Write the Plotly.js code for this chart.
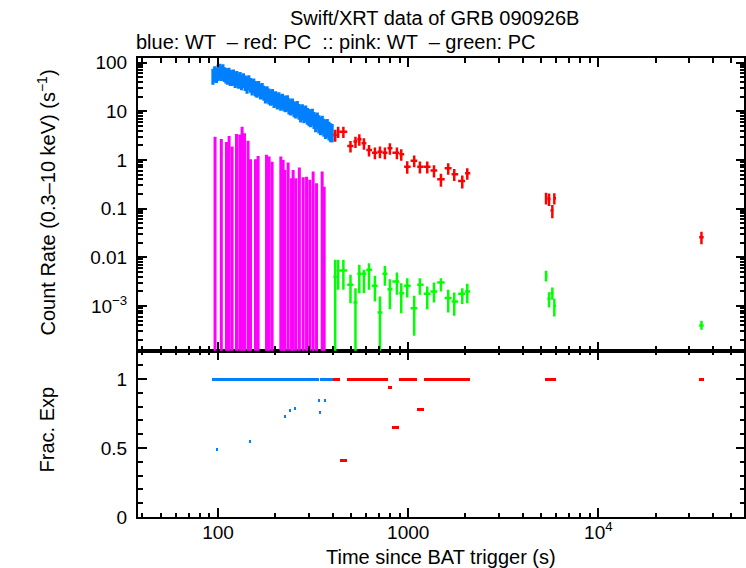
<!DOCTYPE html>
<html>
<head>
<meta charset="utf-8">
<script src="https://cdn.plot.ly/plotly-3.0.1.min.js"></script>
<style>html,body{margin:0;padding:0;background:#fff}#chart{width:746px;height:568px}
#chart .subplot.xy .errorbar path{shape-rendering:crispEdges}</style>
</head>
<body>
<div id="chart"></div>
<script>
// ---------------- DATA ----------------
// WT (blue) count rate
const wtTime = [94,96,98,100,102,104,106,108,110,112,114,116,118,120.5,123,125.5,128,130.5,133,136,139,142,145,148,151,154,157,160,163.5,167,170.5,174,177.5,181,185,189,193,197,201,205,209,213.5,218,222.5,227,231.5,236,241,246,251,256,261,266.5,272,277.5,283,289,295,301,307,313,319.5,326,332.5,339,346,353,360,367.5,375,383,391,398];
const wtRate = [55,62,58,66,70,64,68,60,57,54,58,52,50,53,47,50,44,47,42,45,40,37,41,36,33,35,31,29,31,27,28,25,23,24,21.5,20,21,18.5,19,17,18,16,16.8,15.5,14.8,15.6,13.5,12.8,13.4,11.8,11.2,12,10.4,9.5,10.2,9.1,9.6,8.5,8.0,7.6,8.2,7.0,6.3,6.8,5.9,5.4,5.8,5.0,4.6,4.9,4.3,4.0,3.9];
const wtErr  = [20,22,20,24,25,22,24,20,20,19,20,19,17,19,17,17,15,17,15,15,14,14,14,12,12,12,11,10,11,9.5,10,8.5,8.5,8.5,7.7,7.1,7.5,6.8,6.8,6.1,6.5,5.8,6,5.6,5.3,5.6,4.9,4.6,4.8,4.3,4.1,4.3,3.7,3.6,3.7,3.4,3.6,3.2,3.1,2.9,3.1,2.7,2.6,2.6,2.4,2.2,2.3,2.0,1.9,2.0,1.8,1.7,1.6];

// pink: WT (lower bound below zero)
const pinkTime = [96.4,104,110.7,114.3,118.5,125,130.1,133.8,137.7,143.8,148.1,157.3,162.4,179.8,185.5,192.4,213.8,219.9,224.4,233.6,243.4,248.2,256.4,267.6,280.2,292,303.8,316.2,329.5,352.7,361.4];
const pinkRate = [1.68,1.4,1.2,1.6,0.95,1.75,1.7,2.4,1.8,1.3,0.52,0.53,0.6,0.65,0.6,0.45,0.58,0.5,0.31,0.44,0.21,0.31,0.21,0.35,0.22,0.23,0.2,0.29,0.17,0.36,0.14];
const pinkHigh = [3.0,2.7,2.34,3.1,1.88,3.42,3.31,4.83,3.53,2.49,1.03,1.03,1.21,1.27,1.17,0.92,1.17,1.0,0.62,0.88,0.42,0.62,0.42,0.70,0.44,0.45,0.39,0.58,0.33,0.58,0.28];

// PC bins (red and green share them)
const pcTime  = [413,428,456,497,528,553,585,622,668,710,754,801,872,919,988,1075,1152,1259,1366,1486,1623,1746,1924,2044,5305,5502,5727,5866,34840];
const pcStart = [404,421,436,478,515,540,568,602,645,690,732,778,826,897,952,1030,1115,1205,1310,1420,1555,1690,1830,1990,5240,5400,5600,5800,33900];
const pcStop  = [421,436,478,515,540,568,602,645,690,732,778,826,897,952,1030,1115,1205,1310,1420,1555,1690,1830,1990,2120,5400,5600,5800,5990,35800];
const redRate = [3.26,3.81,3.81,1.94,2.38,2.66,2.20,1.60,1.41,1.48,1.41,1.74,1.41,1.31,0.728,0.967,0.728,0.728,0.603,0.40,0.675,0.508,0.37,0.533,0.166,0.158,0.091,0.164,0.0259];
const redErr  = [0.9,1.0,1.0,0.52,0.62,0.7,0.58,0.43,0.38,0.4,0.38,0.46,0.38,0.35,0.21,0.26,0.2,0.2,0.17,0.12,0.18,0.14,0.11,0.14,0.045,0.045,0.028,0.042,0.0075];
const redFrac = [1,1,0.413,1,1,1,1,1,1,1,1,0.942,0.652,1,1,1,0.783,1,1,1,1,1,1,1,1,1,1,1,1];
const greenRate = [0.004,0.00533,0.00533,0.00271,0.00118,0.00456,0.00456,0.00551,0.00259,0.000732,0.00456,0.00221,0.00317,0.00183,0.00259,0.000901,0.00271,0.00177,0.00198,0.00303,0.00145,0.00123,0.00177,0.00198,0.00415,0.0014,0.00183,0.001,0.000396];
const greenHigh = [0.00885,0.00885,0.00885,0.00435,0.00232,0.00698,0.00551,0.00757,0.00415,0.00156,0.00665,0.00355,0.00485,0.00294,0.00372,0.00161,0.00372,0.0025,0.00303,0.00372,0.00214,0.00188,0.00232,0.00284,0.00526,0.00192,0.00239,0.0014,0.000494];
const greenLow  = [0,0.00214,0.00214,0.00114,0,0.00183,0.00183,0.00214,0.00123,0,0.00259,0.000859,0.00169,0.000711,0.00149,0.000243,0.00169,0.000859,0.00118,0.00198,0.000732,0.000626,0.0011,0.00114,0.00317,0.000927,0.00134,0.000605,0.000323];

// WT fractional exposure
const wtFracStart = [93,343,97.3,145.2,221.7,235.7,250,335,340,361.5];
const wtFracStop  = [339,406,99.6,148.5,227.2,241.6,256,343,348,370.5];
const wtFracValue = [1,1,0.486,0.551,0.732,0.775,0.79,0.848,0.761,0.848];

// tick labels
const xTickVals = [100,1000,10000];
const xTickText = ['100','1000','10<sup>4</sup>'];
const rateTickVals = [0.001,0.01,0.1,1,10,100];
const rateTickText = ['10<sup>−3</sup>','0.01','0.1','1','10','100'];
const fracTickVals = [0,0.5,1];
const fracTickText = ['0','0.5','1'];

// ---------------- LAYOUT ----------------
const W=746,H=568,L=138.3,R=743.8,T=58,B=517.3,MID=351;
const split=(B-MID)/(B-T);
const FONT='Liberation Sans, Arial, Helvetica, sans-serif';
const BLUE='#0080ff',RED='#ff0000',PINK='#ff00ff',GREEN='#00ff00';
const px=(x)=>(x-L)/(R-L), py=(y)=>(B-y)/(B-T);
const FLOOR=1e-9;

const minorLog=(a,b)=>{const v=[];for(let e=a;e<=b;e++)for(let d=2;d<=9;d++)v.push(d*Math.pow(10,e));return v;};
const mid=(a,b)=>a.map((v,i)=>(v+b[i])/2);
const plusTo=(stop,c)=>stop.map((s,i)=>s-c[i]);
const minusTo=(start,c)=>start.map((s,i)=>c[i]-s);

const wtFracMid=mid(wtFracStart,wtFracStop);

const traces=[
 {x:pinkTime,y:pinkRate,xaxis:'x2',yaxis:'y2',mode:'markers',type:'scatter',
  marker:{color:PINK,opacity:0},
  error_y:{type:'data',symmetric:false,array:pinkHigh.map((h,i)=>h-pinkRate[i]),arrayminus:pinkRate.map(v=>v-FLOOR),color:PINK,thickness:3,width:0},
  error_x:{type:'percent',value:1.2,color:PINK,thickness:2.5,width:0},hoverinfo:'skip'},
 {x:wtTime,y:wtRate,xaxis:'x2',yaxis:'y2',mode:'markers',type:'scatter',
  marker:{color:BLUE,opacity:0},
  error_y:{type:'data',array:wtErr,color:BLUE,thickness:3.2,width:0},hoverinfo:'skip'},
 {x:pcTime,y:greenRate,xaxis:'x2',yaxis:'y2',mode:'markers',type:'scatter',
  marker:{color:GREEN,opacity:0},
  error_y:{type:'data',symmetric:false,array:greenHigh.map((h,i)=>h-greenRate[i]),arrayminus:greenLow.map((l,i)=>greenRate[i]-Math.max(l,FLOOR)),color:GREEN,thickness:2.5,width:0},
  error_x:{type:'data',symmetric:false,array:plusTo(pcStop,pcTime),arrayminus:minusTo(pcStart,pcTime),color:GREEN,thickness:2.5,width:0},hoverinfo:'skip'},
 {x:pcTime,y:redRate,xaxis:'x2',yaxis:'y2',mode:'markers',type:'scatter',
  marker:{color:RED,opacity:0},
  error_y:{type:'data',array:redErr,color:RED,thickness:2.5,width:0},
  error_x:{type:'data',symmetric:false,array:plusTo(pcStop,pcTime),arrayminus:minusTo(pcStart,pcTime),color:RED,thickness:2.5,width:0},hoverinfo:'skip'},
 {x:wtFracMid,y:wtFracValue,xaxis:'x',yaxis:'y',mode:'markers',type:'scatter',
  marker:{color:BLUE,opacity:0},
  error_x:{type:'data',symmetric:false,array:plusTo(wtFracStop,wtFracMid),arrayminus:minusTo(wtFracStart,wtFracMid),color:BLUE,thickness:3,width:0},hoverinfo:'skip'},
 {x:pcTime,y:redFrac,xaxis:'x',yaxis:'y',mode:'markers',type:'scatter',
  marker:{color:RED,opacity:0},
  error_x:{type:'data',symmetric:false,array:plusTo(pcStop,pcTime),arrayminus:minusTo(pcStart,pcTime),color:RED,thickness:3,width:0},hoverinfo:'skip'}
];

const axBase={showline:true,linecolor:'#000',linewidth:2,mirror:'allticks',ticks:'inside',tickcolor:'#000',tickwidth:2,showgrid:false,zeroline:false,
  tickfont:{family:FONT,size:19,color:'#000'}};
const minorStyle={ticks:'inside',ticklen:4.5,tickwidth:2,tickcolor:'#000',showgrid:false};

const layout={
 width:W,height:H,margin:{l:L,r:W-R,t:T,b:H-B,pad:0},
 paper_bgcolor:'#fff',plot_bgcolor:'#fff',showlegend:false,
 font:{family:FONT,size:19,color:'#000'},
 xaxis:Object.assign({},axBase,{type:'log',range:[1.5789,4.7658],anchor:'y',tickmode:'array',tickvals:xTickVals,ticktext:xTickText,ticklen:9,
   minor:Object.assign({tickmode:'array',tickvals:minorLog(1,4)},minorStyle),ticklabelstandoff:-3}),
 xaxis2:Object.assign({},axBase,{type:'log',range:[1.5789,4.7658],anchor:'y2',matches:'x',showticklabels:false,tickmode:'array',tickvals:xTickVals,ticklen:9,
   minor:Object.assign({tickmode:'array',tickvals:minorLog(1,4)},minorStyle)}),
 yaxis:Object.assign({},axBase,{domain:[0,split],range:[0,1.205],anchor:'x',tickmode:'array',tickvals:fracTickVals,ticktext:fracTickText,ticklen:8.5,
   minor:Object.assign({tickmode:'linear',tick0:0,dtick:0.1},minorStyle),ticklabelstandoff:5}),
 yaxis2:Object.assign({},axBase,{type:'log',domain:[split,1],range:[-3.922,2.094],anchor:'x2',tickmode:'array',tickvals:rateTickVals,ticktext:rateTickText,ticklen:8.5,
   minor:Object.assign({tickmode:'array',tickvals:minorLog(-4,2)},minorStyle),ticklabelstandoff:5}),
 annotations:[
  {text:'Swift/XRT data of GRB 090926B',xref:'paper',yref:'paper',x:px(435),y:py(18),xanchor:'center',yanchor:'middle',showarrow:false,font:{family:FONT,size:20}},
  {text:'blue: WT  – red: PC  :: pink: WT  – green: PC',xref:'paper',yref:'paper',x:px(134),y:py(42),xanchor:'left',yanchor:'middle',showarrow:false,font:{family:FONT,size:20}},
  {text:'Count Rate (0.3–10 keV) (s<sup>−1</sup>)',xref:'paper',yref:'paper',x:px(47),y:py(203),xanchor:'center',yanchor:'middle',textangle:-90,showarrow:false,font:{family:FONT,size:20}},
  {text:'Frac. Exp',xref:'paper',yref:'paper',x:px(47),y:py(430),xanchor:'center',yanchor:'middle',textangle:-90,showarrow:false,font:{family:FONT,size:20}},
  {text:'Time since BAT trigger (s)',xref:'paper',yref:'paper',x:px(441),y:py(557),xanchor:'center',yanchor:'middle',showarrow:false,font:{family:FONT,size:20}}
 ]
};

Plotly.newPlot('chart',traces,layout,{staticPlot:true,displayModeBar:false});
</script>
</body>
</html>
